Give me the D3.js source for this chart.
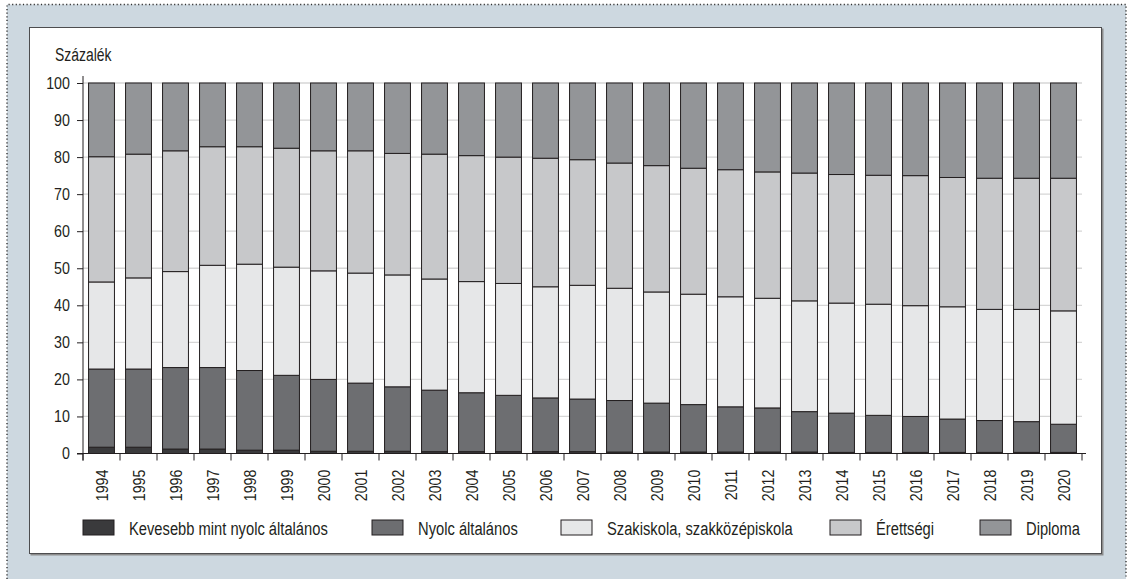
<!DOCTYPE html>
<html>

<head>
  <meta charset="utf-8">
  <script src="https://d3js.org/d3.v7.min.js"></script>
  <title>Százalék</title>
  <style>
    body {
      margin: 0px;
      background: white;
      overflow: hidden;
    }

    svg {
      display: block;
    }

    text {
      font-family: "Liberation Sans", Arial, sans-serif;
      fill: #231f20;
    }

    .grid line {
      stroke: #d6d6d6;
      stroke-width: 1.3;
    }

    .bar rect {
      stroke: #231f20;
      stroke-width: 1;
    }
  </style>
</head>

<body>
  <svg width="1132" height="579"></svg>
  <script>
    const years = ['1994', '1995', '1996', '1997', '1998', '1999', '2000', '2001', '2002', '2003', '2004',
      '2005', '2006', '2007', '2008', '2009', '2010', '2011', '2012', '2013', '2014', '2015', '2016',
      '2017', '2018', '2019', '2020'];

    const seriesNames = ['Kevesebb mint nyolc általános', 'Nyolc általános', 'Szakiskola, szakközépiskola',
      'Érettségi', 'Diploma'];

    const kevesebb = [1.7, 1.7, 1.2, 1.2, 0.9, 0.9, 0.6, 0.6, 0.6, 0.5, 0.5, 0.5, 0.5, 0.5, 0.4, 0.4, 0.4,
      0.4, 0.4, 0.4, 0.3, 0.3, 0.3, 0.3, 0.3, 0.3, 0.3];
    const nyolc = [21.1, 21.1, 22.0, 22.0, 21.5, 20.2, 19.4, 18.4, 17.4, 16.6, 15.9, 15.2, 14.5, 14.2, 13.9,
      13.2, 12.8, 12.2, 11.9, 10.9, 10.6, 10.0, 9.7, 9.0, 8.6, 8.3, 7.6];
    const szakiskola = [23.5, 24.6, 25.9, 27.6, 28.7, 29.2, 29.3, 29.7, 30.2, 30.0, 30.0, 30.2, 30.0, 30.7,
      30.3, 30.0, 29.8, 29.7, 29.6, 29.9, 29.7, 30.0, 29.9, 30.3, 30.0, 30.3, 30.6];
    const erettsegi = [33.8, 33.4, 32.6, 32.0, 31.7, 32.1, 32.4, 33.0, 32.8, 33.7, 34.0, 34.1, 34.7, 33.9,
      33.8, 34.1, 34.0, 34.3, 34.1, 34.5, 34.7, 34.8, 35.1, 34.9, 35.4, 35.4, 35.8];
    const diploma = [19.9, 19.2, 18.3, 17.2, 17.2, 17.6, 18.3, 18.3, 19.0, 19.2, 19.6, 20.0, 20.3, 20.7,
      21.6, 22.3, 23.0, 23.4, 24.0, 24.3, 24.7, 24.9, 25.0, 25.5, 25.7, 25.7, 25.7];

    const yTicks = [0, 10, 20, 30, 40, 50, 60, 70, 80, 90, 100];
    const colors = ['#3a3a3c', '#6d6e71', '#e6e7e8', '#c7c8ca', '#939598'];

    // the original uses a condensed face; squeeze a regular one horizontally
    const numScale = 0.84;
    const labelScale = 0.775;

    const allSeries = [kevesebb, nyolc, szakiskola, erettsegi, diploma];
    const rows = years.map((y, i) => {
      const row = { year: y };
      seriesNames.forEach((s, j) => { row[s] = allSeries[j][i]; });
      return row;
    });

    const svg = d3.select('svg');
    const width = +svg.attr('width');
    const height = +svg.attr('height');

    // frame: blue-grey backdrop with a dotted outline (open at the bottom), white panel
    svg.append('rect')
      .attr('x', 7).attr('y', 4.5)
      .attr('width', 1119).attr('height', height - 4.5)
      .attr('fill', '#cdd8e0');
    svg.append('path')
      .attr('d', `M7,${height}V4.5H1126V${height}`)
      .attr('fill', 'none')
      .attr('stroke', '#333')
      .attr('stroke-width', 1.4)
      .attr('stroke-dasharray', '1.2,2.4');
    svg.append('rect')
      .attr('x', 30.5).attr('y', 28.5)
      .attr('width', 1073).attr('height', 527)
      .attr('fill', '#8c8c8c');
    svg.append('rect')
      .attr('x', 29.5).attr('y', 27.5)
      .attr('width', 1072).attr('height', 526)
      .attr('fill', 'white')
      .attr('stroke', '#4d4d4f')
      .attr('stroke-width', 1);

    const margin = { left: 83, top: 83 };
    const innerWidth = 1082 - margin.left;
    const innerHeight = 453.5 - margin.top;

    const g = svg.append('g')
      .attr('transform', `translate(${margin.left},${margin.top})`);

    const xScale = d3.scaleBand()
      .domain(years)
      .range([0, innerWidth])
      .paddingInner(0.3)
      .paddingOuter(0.15);

    const yScale = d3.scaleLinear()
      .domain([0, 100])
      .range([innerHeight, 0]);

    g.append('g')
      .attr('class', 'grid')
      .selectAll('line').data(yTicks.filter(t => t > 0))
      .enter().append('line')
      .attr('x1', 0)
      .attr('x2', innerWidth)
      .attr('y1', d => yScale(d))
      .attr('y2', d => yScale(d));

    const stack = d3.stack().keys(seriesNames);
    const layers = stack(rows);

    g.selectAll('.bar').data(layers)
      .enter().append('g')
      .attr('class', 'bar')
      .attr('fill', (d, i) => colors[i])
      .selectAll('rect').data(d => d)
      .enter().append('rect')
      .attr('x', d => xScale(d.data.year))
      .attr('width', xScale.bandwidth())
      .attr('y', d => yScale(d[1]))
      .attr('height', d => yScale(d[0]) - yScale(d[1]));

    // y axis
    const yAxis = d3.axisLeft(yScale)
      .tickValues(yTicks)
      .tickSize(6)
      .tickPadding(7);
    const yAxisG = g.append('g').call(yAxis);
    yAxisG.select('.domain')
      .attr('d', `M0,-7V${innerHeight + 7}`)
      .attr('stroke', '#231f20');
    yAxisG.selectAll('.tick line').attr('stroke', '#231f20');
    yAxisG.selectAll('.tick text')
      .attr('x', null)
      .attr('transform', `translate(-13,0) scale(${numScale},1)`)
      .style('font-family', '"Liberation Sans", Arial, sans-serif')
      .style('font-size', '17px')
      .attr('fill', '#231f20');

    // x axis with ticks between the bars
    const xAxisG = g.append('g')
      .attr('transform', `translate(0,${innerHeight})`);
    xAxisG.append('line')
      .attr('x1', -6).attr('x2', innerWidth + 4)
      .attr('stroke', '#231f20');
    const step = xScale.step();
    xAxisG.selectAll('.xtick').data(d3.range(years.length + 1))
      .enter().append('line')
      .attr('x1', i => i * step)
      .attr('x2', i => i * step)
      .attr('y1', 0).attr('y2', 7)
      .attr('stroke', '#231f20');
    xAxisG.selectAll('.year').data(years)
      .enter().append('text')
      .attr('transform', d => `translate(${xScale(d) + xScale.bandwidth() / 2},16) rotate(-90) scale(${numScale},1)`)
      .attr('text-anchor', 'end')
      .attr('dy', '0.36em')
      .style('font-size', '17px')
      .text(d => d);

    svg.append('text')
      .attr('transform', `translate(55,61) scale(${labelScale},1)`)
      .style('font-size', '18px')
      .text('Százalék');

    // legend
    const legendX = [83, 372, 561, 830, 980];
    const legendG = svg.append('g');
    const item = legendG.selectAll('g').data(seriesNames)
      .enter().append('g')
      .attr('transform', (d, i) => `translate(${legendX[i]},520)`);
    item.append('rect')
      .attr('width', 31).attr('height', 15)
      .attr('fill', (d, i) => colors[i])
      .attr('stroke', '#231f20');
    item.append('text')
      .attr('transform', `translate(46,14.5) scale(${labelScale},1)`)
      .style('font-size', '19px')
      .text(d => d);
  </script>
</body>

</html>
